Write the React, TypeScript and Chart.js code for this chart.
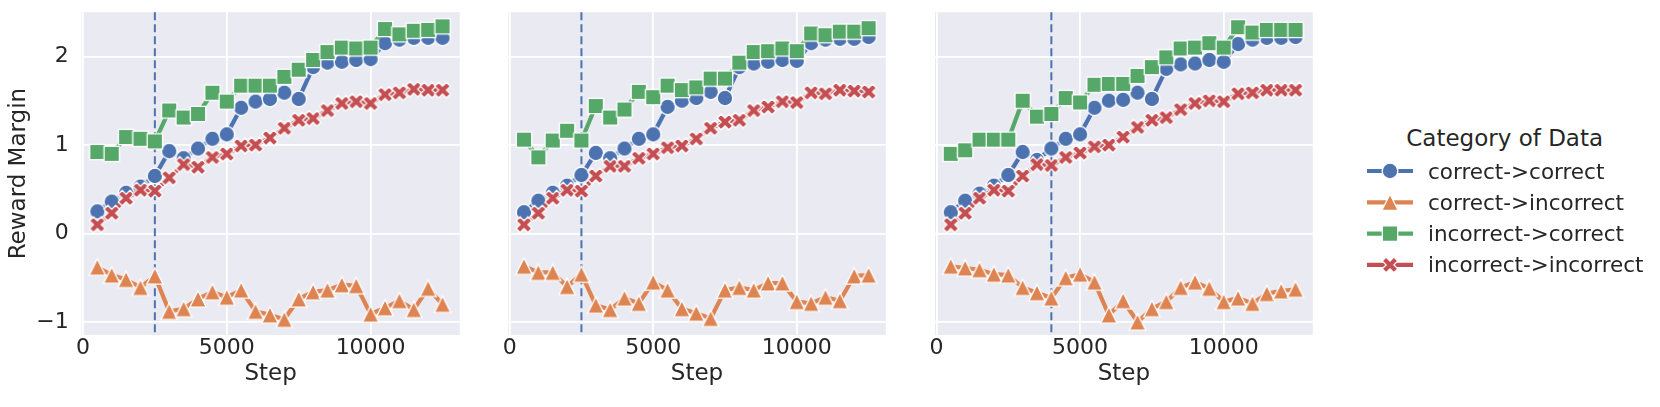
import React, { useEffect, useRef } from "react";
import { Chart, registerables } from "chart.js";

Chart.register(...registerables);

// ---------------- data ----------------
const steps = [500, 1000, 1500, 2000, 2500, 3000, 3500, 4000, 4500, 5000, 5500, 6000, 6500, 7000, 7500, 8000, 8500, 9000, 9500, 10000, 10500, 11000, 11500, 12000, 12500];

const categories = ["correct->correct", "correct->incorrect", "incorrect->correct", "incorrect->incorrect"];
const legendTitle = "Category of Data";
const xLabel = "Step";
const yLabel = "Reward Margin";
const xTicks = [0, 5000, 10000];
const yTicks = [-1, 0, 1, 2];
const splitSteps = [2500, 2500, 4000];

// panel 1
const p1CorrectCorrect = [0.25, 0.36, 0.46, 0.53, 0.65, 0.93, 0.85, 0.96, 1.07, 1.12, 1.42, 1.49, 1.52, 1.59, 1.52, 1.88, 1.93, 1.94, 1.96, 1.97, 2.15, 2.19, 2.21, 2.21, 2.21];
const p1CorrectIncorrect = [-0.38, -0.47, -0.52, -0.61, -0.48, -0.88, -0.85, -0.74, -0.66, -0.72, -0.64, -0.88, -0.92, -0.97, -0.74, -0.66, -0.64, -0.58, -0.59, -0.91, -0.84, -0.76, -0.86, -0.62, -0.8];
const p1IncorrectCorrect = [0.92, 0.9, 1.09, 1.07, 1.04, 1.39, 1.31, 1.35, 1.59, 1.49, 1.67, 1.67, 1.67, 1.77, 1.85, 1.96, 2.05, 2.1, 2.09, 2.1, 2.31, 2.25, 2.29, 2.3, 2.34];
const p1IncorrectIncorrect = [0.1, 0.23, 0.4, 0.49, 0.48, 0.63, 0.78, 0.75, 0.86, 0.9, 0.99, 1.0, 1.08, 1.19, 1.28, 1.3, 1.39, 1.47, 1.49, 1.47, 1.57, 1.59, 1.63, 1.62, 1.62];

// panel 2
const p2CorrectCorrect = [0.24, 0.37, 0.46, 0.54, 0.66, 0.91, 0.85, 0.96, 1.07, 1.12, 1.43, 1.5, 1.53, 1.6, 1.53, 1.88, 1.92, 1.94, 1.96, 1.95, 2.15, 2.19, 2.2, 2.2, 2.22];
const p2CorrectIncorrect = [-0.37, -0.44, -0.44, -0.6, -0.46, -0.81, -0.86, -0.73, -0.79, -0.55, -0.64, -0.85, -0.9, -0.96, -0.64, -0.61, -0.64, -0.56, -0.56, -0.77, -0.79, -0.72, -0.76, -0.48, -0.47];
const p2IncorrectCorrect = [1.06, 0.86, 1.05, 1.16, 1.05, 1.44, 1.31, 1.4, 1.6, 1.54, 1.67, 1.62, 1.65, 1.75, 1.75, 1.93, 2.05, 2.06, 2.09, 2.06, 2.26, 2.24, 2.28, 2.28, 2.32];
const p2IncorrectIncorrect = [0.1, 0.23, 0.4, 0.49, 0.48, 0.65, 0.76, 0.76, 0.85, 0.9, 0.97, 0.99, 1.07, 1.19, 1.26, 1.28, 1.39, 1.43, 1.49, 1.48, 1.59, 1.58, 1.62, 1.61, 1.6];

// panel 3
const p3CorrectCorrect = [0.24, 0.37, 0.45, 0.54, 0.66, 0.92, 0.83, 0.96, 1.07, 1.12, 1.42, 1.5, 1.51, 1.59, 1.52, 1.86, 1.91, 1.92, 1.96, 1.94, 2.14, 2.19, 2.21, 2.21, 2.22];
const p3CorrectIncorrect = [-0.37, -0.39, -0.41, -0.46, -0.47, -0.61, -0.67, -0.73, -0.5, -0.46, -0.55, -0.92, -0.76, -1.0, -0.85, -0.77, -0.61, -0.55, -0.62, -0.77, -0.73, -0.79, -0.68, -0.65, -0.63];
const p3IncorrectCorrect = [0.9, 0.94, 1.06, 1.06, 1.06, 1.5, 1.32, 1.35, 1.53, 1.48, 1.68, 1.69, 1.69, 1.78, 1.88, 1.99, 2.09, 2.1, 2.15, 2.1, 2.33, 2.27, 2.3, 2.3, 2.3];
const p3IncorrectIncorrect = [0.1, 0.23, 0.4, 0.49, 0.48, 0.65, 0.78, 0.77, 0.86, 0.91, 0.98, 1.0, 1.09, 1.2, 1.28, 1.31, 1.4, 1.47, 1.5, 1.49, 1.58, 1.59, 1.62, 1.62, 1.62];

const panels = [
  [p1CorrectCorrect, p1CorrectIncorrect, p1IncorrectCorrect, p1IncorrectIncorrect],
  [p2CorrectCorrect, p2CorrectIncorrect, p2IncorrectCorrect, p2IncorrectIncorrect],
  [p3CorrectCorrect, p3CorrectIncorrect, p3IncorrectCorrect, p3IncorrectIncorrect],
];

// ---------------- style ----------------
const colors = ["#4c72b0", "#dd8452", "#55a868", "#c44e52"];
const markerShapes = ["circle", "triangle", "square", "x"];
const FONT = "DejaVu Sans";
const TEXT = "#262626";
const BG = "#eaeaf2";
const H = 407;
const CANVAS_LEFTS = [0, 426, 853];
const AXIS_WIDTHS = [81.5, 82.2, 82];
const PLOT_W = 380;
const CANVAS_W = 472;
const TOP_PAD = 9.3;
const X_AXIS_H = 72;
const X_MIN = -50;
const X_MAX = 13100;
const Y_MIN = -1.147;
const Y_MAX = 2.5;
const LINE_W = 4.2;
const MARK_CANVAS = 26;

function drawMarker(ctx: CanvasRenderingContext2D, shape: string, color: string, cx: number, cy: number) {
  ctx.save();
  ctx.beginPath();
  if (shape === "circle") {
    ctx.arc(cx, cy, 7.8, 0, Math.PI * 2);
  } else if (shape === "square") {
    ctx.rect(cx - 7.7, cy - 7.7, 15.4, 15.4);
  } else if (shape === "triangle") {
    ctx.moveTo(cx, cy - 8.2);
    ctx.lineTo(cx + 8.2, cy + 8.2);
    ctx.lineTo(cx - 8.2, cy + 8.2);
    ctx.closePath();
  } else {
    const k = 3.9;
    const v = [[-1, -2], [0, -1], [1, -2], [2, -1], [1, 0], [2, 1], [1, 2], [0, 1], [-1, 2], [-2, 1], [-1, 0], [-2, -1]];
    v.forEach(([a, b], i) => {
      if (i === 0) ctx.moveTo(cx + a * k, cy + b * k);
      else ctx.lineTo(cx + a * k, cy + b * k);
    });
    ctx.closePath();
  }
  ctx.fillStyle = color;
  ctx.fill();
  ctx.lineWidth = 1.3;
  ctx.strokeStyle = "#ffffff";
  ctx.lineJoin = "miter";
  ctx.stroke();
  ctx.restore();
}

function makeMarker(shape: string, color: string): HTMLCanvasElement {
  const c = document.createElement("canvas");
  c.width = MARK_CANVAS;
  c.height = MARK_CANVAS;
  const ctx = c.getContext("2d")!;
  drawMarker(ctx, shape, color, MARK_CANVAS / 2, MARK_CANVAS / 2);
  return c;
}

const fmtY = (v: number) => (v < 0 ? "\u2212" + Math.abs(v) : String(v));

function Panel({ index }: { index: number }) {
  const ref = useRef<HTMLCanvasElement>(null);
  useEffect(() => {
    const showY = index === 0;
    const yW = AXIS_WIDTHS[index];
    const split = splitSteps[index];
    const series = panels[index];
    const datasets = series.map((vals, si) => ({
      label: categories[si],
      data: steps.map((s, i) => ({ x: s, y: vals[i] })),
      borderColor: colors[si],
      backgroundColor: colors[si],
      borderWidth: LINE_W,
      borderJoinStyle: "round" as const,
      borderCapStyle: "round" as const,
      tension: 0,
      fill: false,
      pointStyle: makeMarker(markerShapes[si], colors[si]),
      pointRadius: 8,
      pointHoverRadius: 8,
      order: 4 - si,
    }));

    const bgPlugin = {
      id: "bg",
      beforeDraw(chart: any) {
        const { ctx, chartArea: a } = chart;
        ctx.save();
        ctx.fillStyle = BG;
        ctx.fillRect(a.left, a.top, a.right - a.left, a.bottom - a.top);
        ctx.restore();
      },
    };
    const vlinePlugin = {
      id: "vline",
      beforeDatasetsDraw(chart: any) {
        const { ctx, chartArea: a, scales } = chart;
        const x = scales.x.getPixelForValue(split);
        ctx.save();
        ctx.strokeStyle = colors[0];
        ctx.lineWidth = 2;
        ctx.setLineDash([8, 4]);
        ctx.beginPath();
        ctx.moveTo(x, a.top);
        ctx.lineTo(x, a.bottom);
        ctx.stroke();
        ctx.restore();
      },
    };

    const chart = new Chart(ref.current!, {
      type: "line",
      data: { datasets: datasets as any },
      plugins: [bgPlugin, vlinePlugin],
      options: {
        responsive: false,
        animation: false,
        events: [],
        layout: { padding: { top: TOP_PAD, right: CANVAS_W - yW - PLOT_W, bottom: 0, left: 0 } },
        plugins: { legend: { display: false }, tooltip: { enabled: false } },
        scales: {
          x: {
            type: "linear",
            min: X_MIN,
            max: X_MAX,
            afterBuildTicks: (s: any) => {
              s.ticks = xTicks.map((v) => ({ value: v }));
            },
            afterFit: (s: any) => {
              s.height = X_AXIS_H;
              s.paddingLeft = 0;
              s.paddingRight = 0;
              s.paddingTop = 0;
              s.paddingBottom = 0;
            },
            ticks: {
              autoSkip: false,
              maxRotation: 0,
              padding: 0,
              color: TEXT,
              font: { family: FONT, size: 22 },
              callback: (v: any) => String(v),
            },
            grid: { color: "#ffffff", lineWidth: 1.8, drawTicks: false },
            border: { display: false },
            title: {
              display: true,
              text: xLabel,
              color: TEXT,
              font: { family: FONT, size: 23 },
              padding: { top: 0, bottom: 19.5 },
            },
          },
          y: {
            type: "linear",
            min: Y_MIN,
            max: Y_MAX,
            afterBuildTicks: (s: any) => {
              s.ticks = yTicks.map((v) => ({ value: v }));
            },
            afterFit: (s: any) => {
              s.width = yW;
              s.paddingLeft = 0;
              s.paddingRight = 0;
              s.paddingTop = 0;
              s.paddingBottom = 0;
            },
            ticks: {
              display: showY,
              padding: 12.8,
              color: TEXT,
              font: { family: FONT, size: 22 },
              callback: (v: any) => fmtY(Number(v)),
            },
            grid: { color: "#ffffff", lineWidth: 1.8, drawTicks: false },
            border: { display: false },
            title: {
              display: showY,
              text: yLabel,
              color: TEXT,
              font: { family: FONT, size: 23 },
              padding: { top: 4.9, bottom: 0 },
            },
          },
        },
      },
    });
    return () => chart.destroy();
  }, [index]);
  return (
    <canvas
      ref={ref}
      width={CANVAS_W}
      height={H}
      style={{ position: "absolute", left: CANVAS_LEFTS[index], top: 0, width: CANVAS_W, height: H }}
    />
  );
}

function Legend() {
  const ref = useRef<HTMLCanvasElement>(null);
  const rowY = [171, 202.3, 233.6, 264.9];
  const iconLeft = 1360;
  const iconTop = 150;
  useEffect(() => {
    const c = ref.current!;
    const ctx = c.getContext("2d")!;
    ctx.clearRect(0, 0, c.width, c.height);
    categories.forEach((_, i) => {
      const y = rowY[i] - iconTop;
      ctx.save();
      ctx.strokeStyle = colors[i];
      ctx.lineWidth = LINE_W;
      ctx.beginPath();
      ctx.moveTo(1367 - iconLeft, y);
      ctx.lineTo(1413 - iconLeft, y);
      ctx.stroke();
      ctx.restore();
      drawMarker(ctx, markerShapes[i], colors[i], 1390 - iconLeft, y);
    });
  }, []);
  return (
    <>
      <div
        style={{
          position: "absolute",
          left: 1354.7,
          width: 300,
          top: 124.3,
          height: 28,
          lineHeight: "28px",
          textAlign: "center",
          fontFamily: FONT,
          fontSize: 23,
          color: TEXT,
          whiteSpace: "nowrap",
        }}
      >
        {legendTitle}
      </div>
      <canvas
        ref={ref}
        width={70}
        height={140}
        style={{ position: "absolute", left: iconLeft, top: iconTop, width: 70, height: 140 }}
      />
      {categories.map((cat, i) => (
        <div
          key={cat}
          style={{
            position: "absolute",
            left: 1428,
            top: 179 + 31.3 * i - 20.44,
            height: 26,
            lineHeight: "26px",
            fontFamily: FONT,
            fontSize: 21.5,
            color: TEXT,
            whiteSpace: "nowrap",
          }}
        >
          {cat}
        </div>
      ))}
    </>
  );
}

export default function App() {
  return (
    <div style={{ position: "absolute", left: 0, top: 0, width: 1660, height: H, background: "#ffffff", overflow: "hidden" }}>
      <Panel index={0} />
      <Panel index={1} />
      <Panel index={2} />
      <Legend />
    </div>
  );
}
